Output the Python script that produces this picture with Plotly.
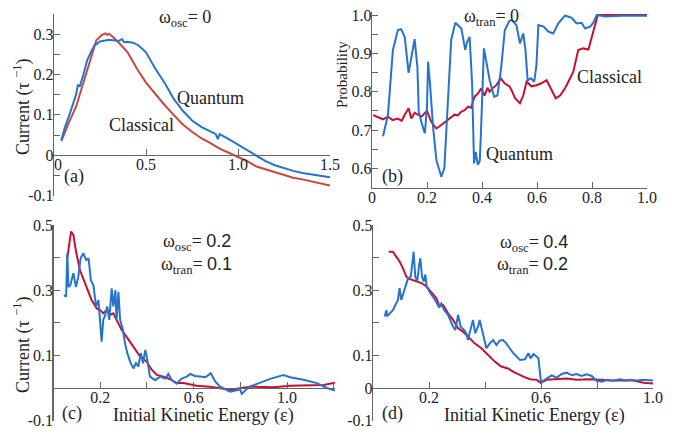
import plotly.graph_objects as go

# ---------------- data ----------------
# (a) omega_osc = 0
a_q_x = [0.04, 0.06, 0.08, 0.10, 0.12, 0.13, 0.14, 0.16, 0.18, 0.20, 0.22, 0.25, 0.30, 0.35, 0.37, 0.38, 0.40, 0.43, 0.46,
         0.50, 0.55, 0.60, 0.65, 0.70, 0.75, 0.80, 0.85, 0.88, 0.89, 0.90, 0.95, 1.00, 1.05, 1.10, 1.15, 1.20, 1.25,
         1.30, 1.35, 1.40, 1.45, 1.50]
a_q_y = [0.037, 0.07, 0.095, 0.125, 0.15, 0.175, 0.17, 0.20, 0.235, 0.255, 0.272, 0.282, 0.286, 0.283, 0.288, 0.280, 0.281, 0.279, 0.272,
         0.255, 0.215, 0.18, 0.14, 0.11, 0.086, 0.07, 0.058, 0.052, 0.040, 0.052, 0.040, 0.026, 0.012, -0.003, -0.015, -0.025, -0.032,
         -0.039, -0.044, -0.048, -0.051, -0.055]
a_c_x = [0.04, 0.08, 0.12, 0.16, 0.20, 0.23, 0.26, 0.28, 0.29, 0.30, 0.32, 0.35, 0.40, 0.45, 0.50, 0.55, 0.60, 0.65, 0.70, 0.75,
         0.80, 0.85, 0.90, 0.95, 1.00, 1.05, 1.10, 1.15, 1.20, 1.25, 1.30, 1.35, 1.40, 1.45, 1.50]
a_c_y = [0.035, 0.08, 0.12, 0.18, 0.245, 0.285, 0.298, 0.302, 0.298, 0.301, 0.293, 0.28, 0.255, 0.215, 0.18, 0.152, 0.125, 0.10, 0.076, 0.058,
         0.042, 0.03, 0.016, 0.006, -0.004, -0.015, -0.028, -0.035, -0.042, -0.05, -0.056, -0.06, -0.065, -0.07, -0.075]

# (b) omega_tran = 0
b_q_x = [0.04, 0.058, 0.076, 0.094, 0.106, 0.119, 0.133, 0.145, 0.155, 0.165, 0.17, 0.18, 0.192, 0.20, 0.204, 0.211, 0.222,
         0.234, 0.252, 0.263, 0.276, 0.288, 0.303, 0.325, 0.339, 0.346, 0.355, 0.364, 0.371, 0.377, 0.385, 0.392, 0.396,
         0.407, 0.419, 0.428, 0.444, 0.456, 0.47, 0.483, 0.50, 0.508, 0.525, 0.538, 0.55, 0.558, 0.566, 0.578, 0.59, 0.598,
         0.605, 0.624, 0.641, 0.659, 0.677, 0.702, 0.726, 0.744, 0.762, 0.775, 0.793, 0.805, 0.817, 0.848, 0.909, 0.97, 1.0]
b_q_y = [0.684, 0.739, 0.909, 0.961, 0.963, 0.943, 0.849, 0.90, 0.937, 0.865, 0.748, 0.72, 0.691, 0.76, 0.878, 0.82, 0.709,
         0.622, 0.578, 0.60, 0.778, 0.935, 0.98, 0.965, 0.909, 0.93, 0.943, 0.822, 0.613, 0.643, 0.609, 0.62, 0.69,
         0.913, 0.865, 0.83, 0.787, 0.79, 0.865, 0.961, 0.985, 0.987, 0.974, 0.926, 0.952, 0.909, 0.83, 0.835, 0.826, 0.87,
         0.974, 0.97, 0.957, 0.952, 0.978, 0.999, 0.993, 0.978, 0.98, 0.965, 0.97, 0.98, 1.0, 0.996, 0.998, 0.997, 0.998]
b_c_x = [0.004, 0.022, 0.04, 0.058, 0.075, 0.094, 0.108, 0.119, 0.133, 0.143, 0.155, 0.167, 0.18, 0.191, 0.2, 0.215, 0.234,
         0.252, 0.265, 0.276, 0.29, 0.30, 0.312, 0.325, 0.337, 0.349, 0.36, 0.373, 0.385, 0.397, 0.409, 0.42, 0.428, 0.44,
         0.452, 0.468, 0.482, 0.50, 0.51, 0.52, 0.538, 0.55, 0.562, 0.58, 0.598, 0.616, 0.635, 0.653, 0.668, 0.684, 0.702,
         0.714, 0.732, 0.75, 0.768, 0.787, 0.799, 0.811, 0.821, 0.90, 1.0]
b_c_y = [0.739, 0.734, 0.728, 0.735, 0.726, 0.73, 0.724, 0.74, 0.757, 0.73, 0.745, 0.74, 0.735, 0.743, 0.75, 0.722, 0.704,
         0.713, 0.72, 0.727, 0.735, 0.74, 0.738, 0.748, 0.752, 0.761, 0.758, 0.787, 0.795, 0.808, 0.79, 0.81, 0.80, 0.81,
         0.817, 0.835, 0.822, 0.814, 0.80, 0.783, 0.77, 0.79, 0.826, 0.814, 0.817, 0.822, 0.83, 0.804, 0.783, 0.79, 0.809,
         0.826, 0.852, 0.909, 0.913, 0.91, 0.943, 0.97, 1.0, 1.0, 1.0]

# (c) omega_osc = 0.2, omega_tran = 0.1
c_q_x = [0.045, 0.054, 0.059, 0.064, 0.072, 0.085, 0.096, 0.106, 0.116, 0.128, 0.14, 0.15, 0.16, 0.171, 0.182, 0.192, 0.199,
         0.206, 0.213, 0.22, 0.23, 0.239, 0.249, 0.256, 0.265, 0.27, 0.278, 0.285, 0.297, 0.306, 0.316, 0.328, 0.342, 0.353,
         0.363, 0.374, 0.383, 0.393, 0.399, 0.406, 0.413, 0.435, 0.456, 0.478, 0.492, 0.506, 0.527, 0.549, 0.57, 0.585,
         0.606, 0.627, 0.650, 0.673, 0.692, 0.713, 0.756, 0.799, 0.806, 0.835, 0.87, 0.892, 0.928, 0.984, 1.013, 1.07,
         1.127, 1.17, 1.205]
c_q_y = [0.285, 0.28, 0.413, 0.31, 0.315, 0.352, 0.31, 0.34, 0.398, 0.413, 0.392, 0.398, 0.33, 0.315, 0.25, 0.27, 0.209,
         0.142, 0.209, 0.22, 0.25, 0.209, 0.306, 0.25, 0.30, 0.209, 0.295, 0.209, 0.18, 0.137, 0.107, 0.081, 0.06, 0.076,
         0.066, 0.107, 0.076, 0.117, 0.097, 0.066, 0.035, 0.024, 0.035, 0.029, 0.043, 0.024, 0.013, 0.029, 0.035, 0.043,
         0.037, 0.035, 0.033, 0.045, 0.02, 0.004, -0.011, -0.005, -0.018, 0.003, 0.013, 0.018, 0.028, 0.04, 0.033, 0.025,
         0.015, 0.0, -0.008]
c_c_x = [0.059, 0.068, 0.075, 0.085, 0.096, 0.113, 0.142, 0.163, 0.185, 0.199, 0.213, 0.228, 0.242, 0.256, 0.27, 0.292,
         0.313, 0.342, 0.37, 0.399, 0.42, 0.442, 0.47, 0.499, 0.527, 0.556, 0.585, 0.613, 0.67, 0.756, 0.842, 0.942,
         1.013, 1.085, 1.156, 1.205]
c_c_y = [0.398, 0.454, 0.48, 0.47, 0.42, 0.362, 0.311, 0.27, 0.244, 0.239, 0.229, 0.239, 0.224, 0.229, 0.209, 0.178,
         0.157, 0.127, 0.097, 0.081, 0.056, 0.04, 0.035, 0.027, 0.015, 0.015, 0.01, 0.007, 0.004, -0.005, 0.004, 0.002,
         0.007, 0.009, 0.009, 0.016]

# (d) omega_osc = 0.4, omega_tran = 0.2
d_q_x = [0.042, 0.048, 0.05, 0.071, 0.089, 0.095, 0.101, 0.113, 0.125, 0.135, 0.141, 0.145, 0.151, 0.158, 0.164, 0.169,
         0.175, 0.181, 0.187, 0.192, 0.202, 0.214, 0.226, 0.235, 0.244, 0.254, 0.268, 0.286, 0.294, 0.304, 0.313, 0.325,
         0.333, 0.339, 0.349, 0.357, 0.365, 0.375, 0.381, 0.389, 0.396, 0.405, 0.417, 0.429, 0.441, 0.452, 0.464, 0.476,
         0.488, 0.501, 0.525, 0.543, 0.555, 0.563, 0.573, 0.582, 0.591, 0.599, 0.602, 0.62, 0.638, 0.656, 0.674, 0.692,
         0.71, 0.727, 0.745, 0.763, 0.781, 0.797, 0.817, 0.835, 0.859, 0.882, 0.9, 0.918, 0.942, 0.966, 1.0]
d_q_y = [0.219, 0.239, 0.22, 0.239, 0.27, 0.306, 0.27, 0.30, 0.336, 0.342, 0.383, 0.418, 0.342, 0.327, 0.373, 0.398,
         0.342, 0.327, 0.348, 0.31, 0.295, 0.28, 0.264, 0.249, 0.259, 0.239, 0.224, 0.188, 0.178, 0.224, 0.188, 0.178,
         0.168, 0.147, 0.178, 0.209, 0.168, 0.188, 0.209, 0.178, 0.147, 0.122, 0.137, 0.147, 0.132, 0.145, 0.147, 0.137,
         0.122, 0.107, 0.086, 0.088, 0.107, 0.091, 0.104, 0.097, 0.091, 0.025, 0.019, 0.029, 0.039, 0.032, 0.043, 0.047,
         0.039, 0.043, 0.037, 0.042, 0.037, 0.023, 0.019, 0.025, 0.022, 0.027, 0.023, 0.025, 0.023, 0.025, 0.023]
d_c_x = [0.056, 0.071, 0.083, 0.095, 0.107, 0.119, 0.125, 0.137, 0.155, 0.173, 0.19, 0.208, 0.226, 0.238, 0.25, 0.268,
         0.286, 0.304, 0.321, 0.339, 0.363, 0.387, 0.411, 0.435, 0.458, 0.482, 0.506, 0.513, 0.537, 0.561, 0.585, 0.599,
         0.62, 0.656, 0.692, 0.727, 0.775, 0.811, 0.847, 0.894, 0.93, 0.966, 1.0]
d_c_y = [0.418, 0.418, 0.403, 0.388, 0.367, 0.342, 0.336, 0.332, 0.327, 0.322, 0.312, 0.295, 0.276, 0.25, 0.255, 0.229,
         0.209, 0.183, 0.173, 0.158, 0.137, 0.122, 0.101, 0.081, 0.066, 0.06, 0.047, 0.045, 0.035, 0.027, 0.025, 0.016,
         0.025, 0.027, 0.029, 0.025, 0.027, 0.025, 0.023, 0.023, 0.023, 0.016, 0.014]

# ticks: labelled (major) and unlabelled (minor)
a_xticks = [0, 0.5, 1.0, 1.5]
a_xtext = ["\u00a0\u00a00", "0.5", "1.0", "1.5"]
a_xminor = []
a_yticks = [-0.1, 0, 0.1, 0.2, 0.3]
a_ytext = ["-0.1", "0", "0.1", "0.2", "0.3"]
a_yminor = [-0.05, 0.05, 0.15, 0.25, 0.35]
b_xticks = [0, 0.2, 0.4, 0.6, 0.8, 1.0]
b_xtext = ["0", "0.2", "0.4", "0.6", "0.8", "1.0"]
b_xminor = []
b_yticks = [0.6, 0.7, 0.8, 0.9, 1.0]
b_ytext = ["0.6", "0.7", "0.8", "0.9", "1.0"]
b_yminor = [0.55, 0.65, 0.75, 0.85, 0.95]
c_xticks = [0.2, 0.6, 1.0]
c_xtext = ["0.2", "0.6", "1.0"]
c_xminor = [0.4, 0.8, 1.2]
c_yticks = [-0.1, 0.1, 0.3, 0.5]
c_ytext = ["-0.1", "0.1", "0.3", "0.5"]
c_yminor = [0, 0.2, 0.4]
d_xticks = [0.2, 0.6, 1.0]
d_xtext = ["0.2", "0.6", "1.0"]
d_xminor = [0.4, 0.8]
d_yticks = [-0.1, 0, 0.1, 0.3, 0.5]
d_ytext = ["-0.1", "0", "0.1", "0.3", "0.5"]
d_yminor = [0.2, 0.4]

BLUE = "#2474cf"
RED_A = "#c9483e"
RED = "#c8102e"
AXC = "#666666"
TXT = "#222222"
SERIF = "Liberation Serif"

W, H = 683, 435


def px2x(p):
    return p / W


def py2y(p):
    return 1 - p / H


fig = go.Figure()

panels = [
    ("", a_q_x, a_q_y, a_c_x, a_c_y, RED_A, (54, 330), (195.5, 14), [0, 1.5], [-0.1, 0.35], 155,
     a_xticks, a_xtext, a_xminor, a_yticks, a_ytext, a_yminor),
    ("2", b_q_x, b_q_y, b_c_x, b_c_y, RED, (372, 647), (187.5, 12), [0, 1.0], [0.55, 1.008], None,
     b_xticks, b_xtext, b_xminor, b_yticks, b_ytext, b_yminor),
    ("3", c_q_x, c_q_y, c_c_x, c_c_y, RED, (53.5, 335), (420.6, 225), [0, 1.205], [-0.1, 0.5], 388,
     c_xticks, c_xtext, c_xminor, c_yticks, c_ytext, c_yminor),
    ("4", d_q_x, d_q_y, d_c_x, d_c_y, RED, (373, 653), (420.6, 225), [0, 1.0], [-0.1, 0.5], 388,
     d_xticks, d_xtext, d_xminor, d_yticks, d_ytext, d_yminor),
]

layout = {}
for (n, qx, qy, cx, cy, rc, xd, yd, xr, yr, xpos, xt, xtt, xmin, yt, ytt, ymin) in panels:
    xa = "x" + n
    ya = "y" + n
    fig.add_trace(go.Scatter(x=cx, y=cy, mode="lines", line=dict(color=rc, width=2),
                             xaxis=xa, yaxis=ya, showlegend=False, hoverinfo="skip"))
    fig.add_trace(go.Scatter(x=qx, y=qy, mode="lines", line=dict(color=BLUE, width=2),
                             xaxis=xa, yaxis=ya, showlegend=False, hoverinfo="skip"))
    xdict = dict(domain=[px2x(xd[0]), px2x(xd[1])], range=xr, showgrid=False, zeroline=False,
                 showline=True, linecolor=AXC, linewidth=1.2, ticks="inside", ticklen=6,
                 tickcolor=AXC, tickmode="array", tickvals=xt, ticktext=xtt,
                 ticklabelstandoff=-5, automargin=False,
                 minor=dict(tickmode="array", tickvals=xmin, ticks="inside", ticklen=6, tickcolor=AXC,
                            showgrid=False),
                 tickfont=dict(family=SERIF, size=16, color=TXT))
    if xpos is not None:
        xdict.update(anchor="free", position=py2y(xpos))
    else:
        xdict.update(anchor=ya)
    ydict = dict(domain=[py2y(yd[0]), py2y(yd[1])], range=yr, showgrid=False, zeroline=False,
                 showline=True, linecolor=AXC, linewidth=1.2, ticks="inside", ticklen=6,
                 tickcolor=AXC, tickmode="array", tickvals=yt, ticktext=ytt, anchor=xa,
                 ticklabelstandoff=-4, automargin=False,
                 minor=dict(tickmode="array", tickvals=ymin, ticks="inside", ticklen=6, tickcolor=AXC,
                            showgrid=False),
                 tickfont=dict(family=SERIF, size=16, color=TXT))
    layout["xaxis" + n] = xdict
    layout["yaxis" + n] = ydict

fig.update_layout(**layout)

anns = []


def ann(text, x, y, xref, yref, size=18, xanchor="center", angle=0):
    anns.append(dict(text=text, x=x, y=y, xref=xref, yref=yref, showarrow=False,
                     xanchor=xanchor, yanchor="middle", textangle=angle,
                     font=dict(family=SERIF, size=size, color=TXT)))


SANS = "<span style=\"font-family:Liberation Sans\">"
# (a)
ann("ω<sub>osc</sub>= 0", 0.712, 0.338, "x", "y")
ann("Quantum", 0.853, 0.141, "x", "y")
ann("Classical", 0.478, 0.074, "x", "y")
ann("(a)", 0.108, -0.052, "x", "y")
ann("Current (τ <sup>−1</sup>)", px2x(22), py2y(107), "paper", "paper", angle=-90)
# (b)
ann("ω<sub>tran</sub>= 0", 0.436, 0.993, "x2", "y2")
ann("Classical", 0.865, 0.838, "x2", "y2")
ann("Quantum", 0.538, 0.637, "x2", "y2")
ann("(b)", 0.073, 0.58, "x2", "y2")
ann("Probability", px2x(342), py2y(75), "paper", "paper", size=15, angle=-90)
# (c)
ann("ω<sub>osc</sub>= " + SANS + "0.2</span>", 0.615, 0.445, "x3", "y3")
ann("ω<sub>tran</sub>= " + SANS + "0.1</span>", 0.61, 0.377, "x3", "y3")
ann("(c)", 0.079, -0.077, "x3", "y3")
ann("Initial Kinetic Energy (ε)", 0.64, -0.083, "x3", "y3")
ann("Current (τ <sup>−1</sup>)", px2x(22), py2y(345), "paper", "paper", angle=-90)
# (d)
ann("ω<sub>osc</sub>= " + SANS + "0.4</span>", 0.704, 0.442, "x4", "y4", xanchor="right")
ann("ω<sub>tran</sub>= " + SANS + "0.2</span>", 0.704, 0.377, "x4", "y4", xanchor="right")
ann("(d)", 0.068, -0.077, "x4", "y4")
ann("Initial Kinetic Energy (ε)", 0.575, -0.083, "x4", "y4")

fig.update_layout(annotations=anns, width=W, height=H,
                  margin=dict(l=0, r=0, t=0, b=0, pad=0, autoexpand=False),
                  paper_bgcolor="white", plot_bgcolor="white", hovermode=False,
                  font=dict(family=SERIF, size=16, color=TXT))

fig.write_html("out.html", config={"displayModeBar": False, "staticPlot": True},
               post_script="document.body.style.margin='0';document.body.style.padding='0';")
